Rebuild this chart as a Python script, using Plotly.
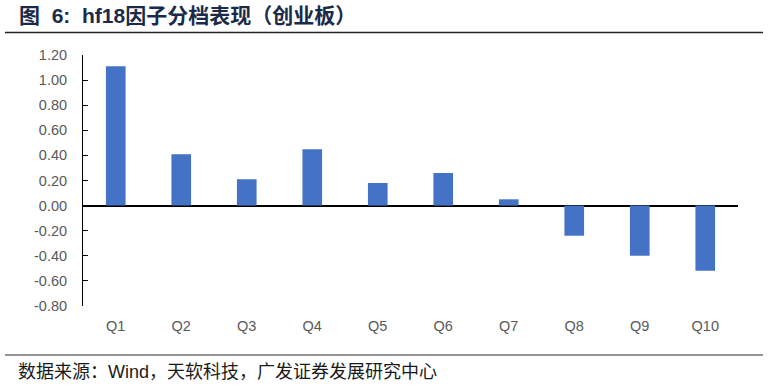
import plotly.graph_objects as go

categories = ["Q1", "Q2", "Q3", "Q4", "Q5", "Q6", "Q7", "Q8", "Q9", "Q10"]
values = [1.11, 0.41, 0.21, 0.45, 0.18, 0.26, 0.05, -0.24, -0.40, -0.52]
tick_vals = [-0.8, -0.6, -0.4, -0.2, 0.0, 0.2, 0.4, 0.6, 0.8, 1.0, 1.2]
tick_text = ["-0.80", "-0.60", "-0.40", "-0.20", "0.00", "0.20", "0.40", "0.60", "0.80", "1.00", "1.20"]
title_text = "图  6:  hf18因子分档表现（创业板）"
source_text = "数据来源：Wind，天软科技，广发证券发展研究中心"

W, H = 769, 386
L, R, T, B = 83, 31, 55, 80
pw, ph = W - L - R, H - T - B

def px(x):
    return (x - L) / pw

def py(y):
    return (H - B - y) / ph

fig = go.Figure()
fig.add_trace(go.Bar(x=categories, y=values, marker=dict(color="#4472C4", line=dict(width=0)),
                     width=0.3))

fig.update_layout(
    width=W, height=H,
    margin=dict(l=L, r=R, t=T, b=B),
    plot_bgcolor="white", paper_bgcolor="white",
    showlegend=False,
    font=dict(family="Liberation Sans, Arial, Noto Sans CJK SC", size=14, color="#595959"),
    xaxis=dict(showline=False, ticks="", showgrid=False, zeroline=False,
               tickfont=dict(size=14.5, color="#595959"), range=[-0.5, 9.5],
               ticklabelstandoff=9),
    yaxis=dict(range=[-0.8, 1.2], tickvals=tick_vals, ticktext=tick_text,
               showline=True, linecolor="#000000", linewidth=1,
               ticks="inside", ticklen=5, tickcolor="#000000", tickwidth=1,
               showgrid=False, zeroline=True, zerolinecolor="#000000", zerolinewidth=1.5,
               tickfont=dict(size=14.5, color="#595959"), ticklabelstandoff=12),
    shapes=[
        dict(type="line", xref="paper", yref="paper", x0=px(5), x1=px(763), y0=py(32.5), y1=py(32.5),
             line=dict(color="#222222", width=1.5)),
        dict(type="line", xref="paper", yref="paper", x0=px(5), x1=px(763), y0=py(355), y1=py(355),
             line=dict(color="#707070", width=1.5)),
    ],
    annotations=[
        dict(text="<b>" + title_text + "</b>", xref="paper", yref="paper", x=px(17), y=py(16),
             xanchor="left", yanchor="middle", showarrow=False,
             font=dict(family="Liberation Sans, Noto Sans CJK SC", size=21, color="#1b2a49")),
        dict(text=source_text, xref="paper", yref="paper", x=px(16), y=py(372),
             xanchor="left", yanchor="middle", showarrow=False,
             font=dict(family="Liberation Sans, Noto Sans CJK SC", size=18, color="#1a1a1a")),
    ],
)

fig.write_html("out.html", config={"displayModeBar": False},
               post_script="document.body.style.margin='0';")
